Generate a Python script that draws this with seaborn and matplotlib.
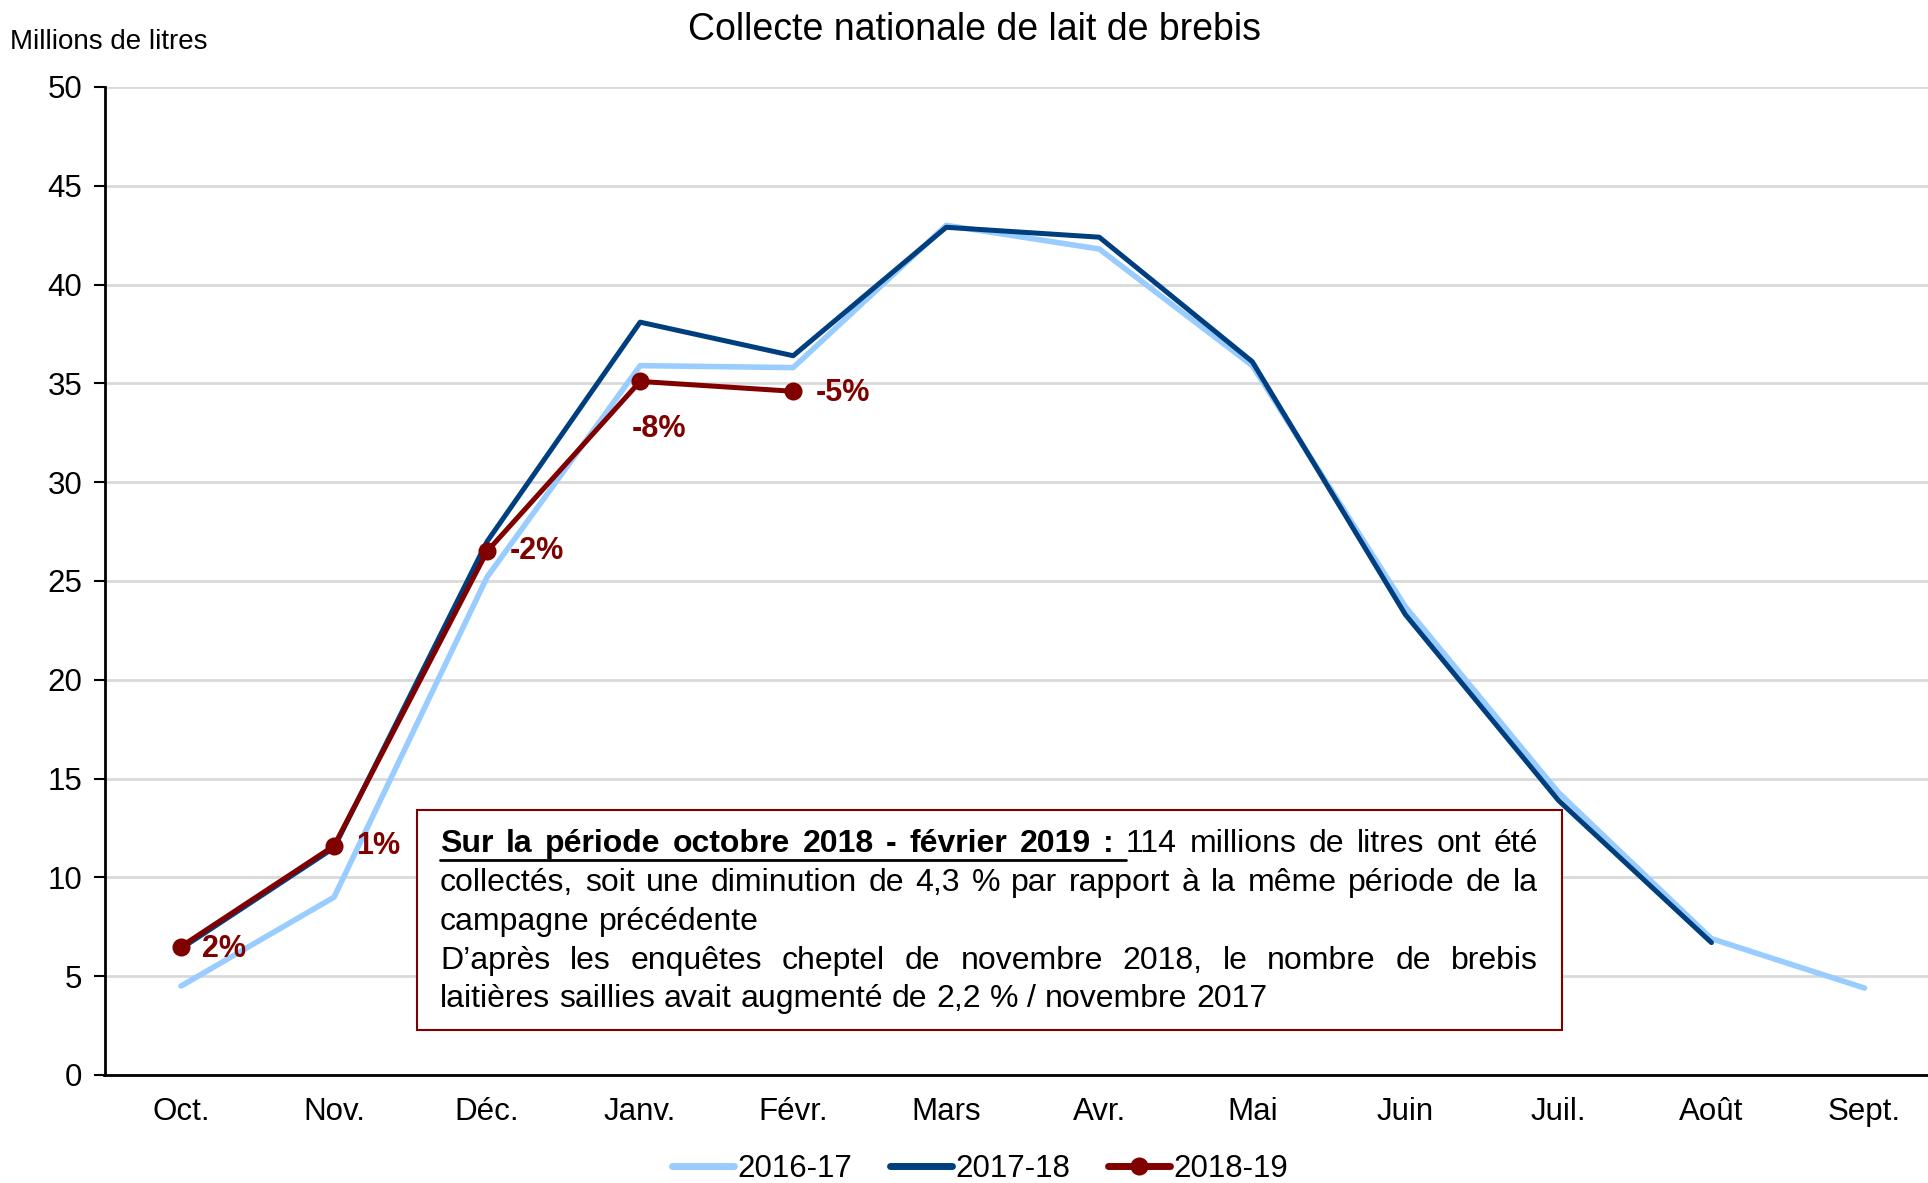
import matplotlib
matplotlib.use("Agg")
import matplotlib.pyplot as plt
import seaborn as sns
import pandas as pd
import numpy as np
from matplotlib.lines import Line2D

months = ["Oct.", "Nov.", "Déc.", "Janv.", "Févr.", "Mars", "Avr.", "Mai", "Juin", "Juil.", "Août", "Sept."]
s_2016_17 = [4.5, 9.0, 25.2, 35.9, 35.8, 43.0, 41.8, 35.9, 23.7, 14.3, 6.9, 4.4]
s_2017_18 = [6.4, 11.5, 27.0, 38.1, 36.4, 42.9, 42.4, 36.1, 23.3, 13.9, 6.7]
s_2018_19 = [6.5, 11.6, 26.5, 35.1, 34.6]
pct_labels = ["2%", "1%", "-2%", "-8%", "-5%"]
seasons = ["2016-17", "2017-18", "2018-19"]
colors = {"2016-17": "#99CCFF", "2017-18": "#003F7F", "2018-19": "#800000"}

rows = []
for name, vals in zip(seasons, [s_2016_17, s_2017_18, s_2018_19]):
    for i, v in enumerate(vals):
        rows.append({"mois": i, "valeur": v, "campagne": name})
df = pd.DataFrame(rows)

sns.set_theme(style="white")
plt.rcParams["font.family"] = ["Liberation Sans", "DejaVu Sans"]
plt.rcParams["text.color"] = "black"
plt.rcParams["xtick.color"] = "black"
plt.rcParams["ytick.color"] = "black"

W, H = 1928, 1183
fig = plt.figure(figsize=(W / 100, H / 100), dpi=100)
ax = fig.add_axes([104.5 / W, 108 / H, (1941 - 104.5) / W, (1075 - 87) / H])

widths = {"2016-17": 4.0, "2017-18": 3.6, "2018-19": 3.6}
for name in seasons:
    sub = df[df["campagne"] == name]
    sns.lineplot(data=sub, x="mois", y="valeur", color=colors[name], lw=widths[name],
                 marker="o" if name == "2018-19" else None, markersize=13,
                 markeredgewidth=0, ax=ax, legend=False, zorder=3)

for i, (v, lab) in enumerate(zip(s_2018_19, pct_labels)):
    off = {0: (15, -2), 1: (16, 0), 2: (16, 0), 3: (-6, -34), 4: (16, -1)}[i]
    ax.annotate(lab, (i, v), xytext=off, textcoords="offset points", ha="left", va="center",
                color="#800000", fontsize=22, fontweight="bold")

ax.set_xlim(-0.5, 11.5)
ax.set_ylim(0, 50)
ax.set_yticks(range(0, 51, 5))
ax.set_xticks(range(12))
ax.set_xticklabels(months)
ax.set_xticks(np.arange(0.5, 11.5, 1), minor=True)
ax.tick_params(axis="x", which="major", length=0, pad=16, labelsize=22.5)
ax.tick_params(axis="x", which="minor", length=8, width=1.5, direction="out", color="black")
ax.tick_params(axis="y", length=8, width=1.5, direction="out", color="black", labelsize=22.5, pad=8, left=True)
ax.yaxis.grid(True, color="#D9D9D9", lw=2)
ax.set_axisbelow(True)
for s in ["top", "right"]:
    ax.spines[s].set_visible(False)
for s in ["left", "bottom"]:
    ax.spines[s].set_color("black")
    ax.spines[s].set_linewidth(2)
ax.set_xlabel("")
ax.set_ylabel("")

fig.text(10 / W, 1 - 42 / H, "Millions de litres", fontsize=20, va="center", ha="left")
fig.text(975 / W, 1 - 30 / H, "Collecte nationale de lait de brebis", fontsize=27, va="center", ha="center")

# text box
bx0, by0, bx1, by1 = 417, 810, 1562, 1030
fig.patches.append(plt.Rectangle((bx0 / W, 1 - by1 / H), (bx1 - bx0) / W, (by1 - by0) / H,
                                 transform=fig.transFigure, fill=True, facecolor="white",
                                 edgecolor="#800000", lw=1.5, zorder=5))

renderer = fig.canvas.get_renderer()
left, right = 440, 1538
fs = 23
line_y = [844, 883, 922, 961, 999]
lines = [
    ([("Sur la période octobre 2018 - février 2019 :", "bold")], "114 millions de litres ont été", True),
    ([], "collectés, soit une diminution de 4,3 % par rapport à la même période de la", True),
    ([], "campagne précédente", False),
    ([], "D’après les enquêtes cheptel de novembre 2018, le nombre de brebis", True),
    ([], "laitières saillies avait augmenté de 2,2 % / novembre 2017", False),
]


def measure(s, weight):
    t = fig.text(0, 0, s, fontsize=fs, fontweight=weight)
    w = t.get_window_extent(renderer).width
    t.remove()
    return w


for (bold_parts, normal, justify), y in zip(lines, line_y):
    words = []
    for txt, wt in bold_parts:
        words += [(w, "bold") for w in txt.split()]
    words += [(w, "normal") for w in normal.split()]
    ws = [measure(w, wt) for w, wt in words]
    sp = measure("a b", "normal") - measure("ab", "normal")
    if justify:
        sp = (right - left - sum(ws)) / (len(words) - 1)
    x = left
    nb = sum(len(p[0].split()) for p in bold_parts)
    for k, ((w, wt), wd) in enumerate(zip(words, ws)):
        fig.text(x / W, 1 - y / H, w, fontsize=fs, fontweight=wt, va="center", ha="left", zorder=6)
        x += wd
        if k == nb - 1:
            fig.add_artist(Line2D([left / W, (x + sp) / W], [1 - (y + 16) / H] * 2,
                                  transform=fig.transFigure, color="black", lw=2, zorder=6))
        x += sp

handles = [Line2D([], [], color=colors[s], lw=5, marker="o" if s == "2018-19" else None,
                  markersize=13, markeredgewidth=0) for s in seasons]
fig.legend(handles, seasons, loc="center", bbox_to_anchor=(980 / W, 1 - 1169 / H), ncol=3,
           frameon=False, fontsize=22.5, handlelength=2.0, handletextpad=0.1, columnspacing=1.2)

fig.savefig("out.png", dpi=100)
